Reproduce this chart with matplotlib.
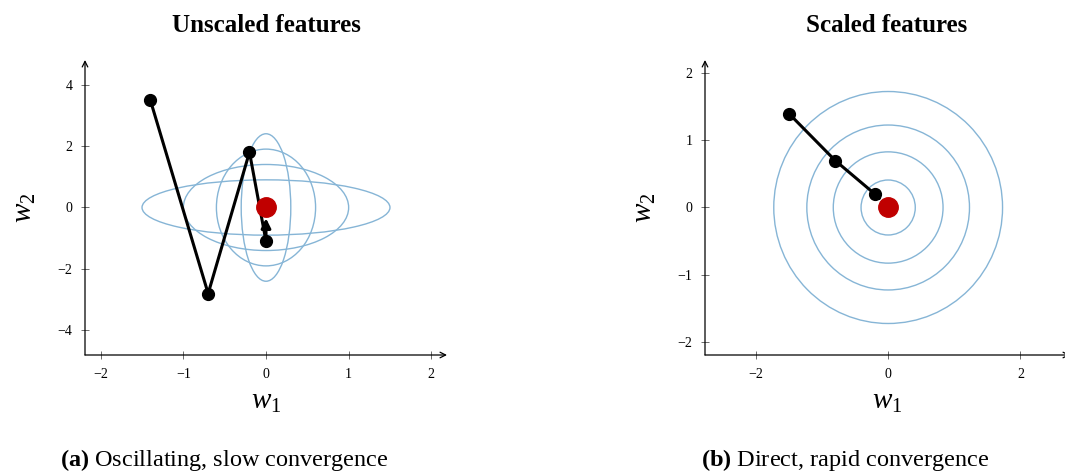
import matplotlib
matplotlib.use("Agg")
import matplotlib.pyplot as plt
from matplotlib.patches import Ellipse, Circle

plt.rcParams['font.family'] = 'Liberation Serif'
plt.rcParams['mathtext.fontset'] = 'custom'
plt.rcParams['mathtext.rm'] = 'Liberation Serif'
plt.rcParams['mathtext.it'] = 'Liberation Serif:italic'
plt.rcParams['mathtext.bf'] = 'Liberation Serif:bold'

# 데이터: 비스케일 (좌)
path_a_x = [-1.4, -0.7, -0.2, 0.0]
path_a_y = [3.5, -2.8, 1.8, -1.1]
arrow_a_end = (0.0, -0.35)
ell_w = [1.5, 1.0, 0.6, 0.3]      # 반축 (w1 방향)
ell_h = [0.9, 1.4, 1.9, 2.4]      # 반축 (w2 방향)

# 데이터: 스케일 (우)
path_b_x = [-1.5, -0.8, -0.2]
path_b_y = [1.4, 0.7, 0.2]
arrow_b_end = (-0.1, 0.1)
circ_r = [0.41, 0.83, 1.23, 1.73]

optimum = (0.0, 0.0)

a_xticks = [-2, -1, 0, 1, 2]
a_yticks = [-4, -2, 0, 2, 4]
b_xticks = [-2, 0, 2]
b_yticks = [-2, -1, 0, 1, 2]

contour_color = '#86b5d6'
red = '#c00000'

fig = plt.figure(figsize=(10.65, 4.73), dpi=100)
W, H = 1065, 473


def px_axes(x0, x1, y_top, y_bot):
    return fig.add_axes([x0 / W, 1 - y_bot / H, (x1 - x0) / W, (y_bot - y_top) / H])


def style_axes(ax, xlim, ylim, xt, yt):
    ax.set_xlim(*xlim)
    ax.set_ylim(*ylim)
    for s in ax.spines.values():
        s.set_visible(False)
    ax.set_xticks(xt)
    ax.set_yticks(yt)
    ax.set_xticklabels([str(t).replace('-', '\u2212') for t in xt])
    ax.set_yticklabels([str(t).replace('-', '\u2212') for t in yt])
    ax.tick_params(direction='inout', length=6, width=0.6, color='#555555',
                   labelsize=10, pad=6)
    # 화살표 축
    ax.annotate('', xy=(1.0, 0), xytext=(0, 0), xycoords='axes fraction',
                arrowprops=dict(arrowstyle='->', lw=0.9, color='black',
                                shrinkA=0, shrinkB=0, mutation_scale=10))
    ax.annotate('', xy=(0, 1.0), xytext=(0, 0), xycoords='axes fraction',
                arrowprops=dict(arrowstyle='->', lw=0.9, color='black',
                                shrinkA=0, shrinkB=0, mutation_scale=10))
    ax.set_xlabel(r'$w_1$', fontsize=21, labelpad=6)
    ax.set_ylabel(r'$w_2$', fontsize=21, labelpad=14)


# (a) 좌측
ax1 = px_axes(85, 447, 60, 355)
for w, h in zip(ell_w, ell_h):
    ax1.add_patch(Ellipse(optimum, 2 * w, 2 * h, fill=False,
                          edgecolor=contour_color, lw=1.0, zorder=1))
ax1.plot(path_a_x, path_a_y, color='black', lw=2.2, marker='o', ms=8.5, zorder=3)
ax1.annotate('', xy=arrow_a_end, xytext=(path_a_x[-1], path_a_y[-1]),
             arrowprops=dict(arrowstyle='-|>', lw=2.2, color='black',
                             shrinkA=0, shrinkB=0, mutation_scale=14), zorder=3)
ax1.plot(*optimum, 'o', color=red, ms=14, zorder=5)
style_axes(ax1, (-2.19, 2.19), (-4.8, 4.8), a_xticks, a_yticks)
ax1.set_title('Unscaled features', fontsize=18, fontweight='bold', pad=20)

# (b) 우측
ax2 = px_axes(705, 1070, 60, 355)
for r in circ_r:
    ax2.add_patch(Circle(optimum, r, fill=False, edgecolor=contour_color,
                         lw=1.0, zorder=1))
ax2.plot(path_b_x, path_b_y, color='black', lw=2.2, marker='o', ms=8.5, zorder=3)
ax2.annotate('', xy=arrow_b_end, xytext=(path_b_x[-1], path_b_y[-1]),
             arrowprops=dict(arrowstyle='-|>', lw=2.2, color='black',
                             shrinkA=0, shrinkB=0, mutation_scale=14), zorder=3)
ax2.plot(*optimum, 'o', color=red, ms=14, zorder=5)
style_axes(ax2, (-2.77, 2.75), (-2.2, 2.2), b_xticks, b_yticks)
ax2.set_title('Scaled features', fontsize=18, fontweight='bold', pad=20)
ax2.title.set_x((887 - 705) / (1070 - 705))

# 캡션
fig.text(224 / W, 1 - 460 / H, r'$\mathbf{(a)}$ Oscillating, slow convergence',
         ha='center', va='center', fontsize=17.5)
fig.text(845 / W, 1 - 460 / H, r'$\mathbf{(b)}$ Direct, rapid convergence',
         ha='center', va='center', fontsize=17.5)

fig.savefig('out.png', dpi=100)
